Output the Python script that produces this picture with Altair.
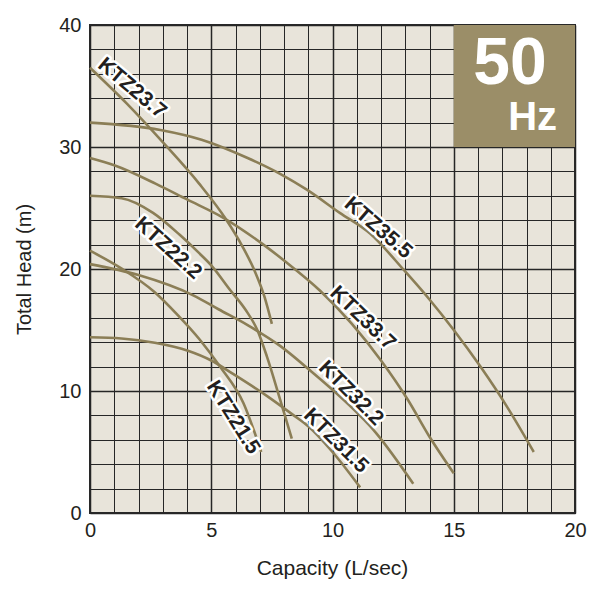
import altair as alt
import pandas as pd

# ---- data ----
names = ["KTZ35.5", "KTZ33.7", "KTZ32.2", "KTZ31.5", "KTZ23.7", "KTZ22.2", "KTZ21.5"]
cap_355 = [0, 2.9, 4.6, 6.5, 7.84, 8.94, 10.3, 11.55, 12.95, 14.0, 15.0, 16.1, 17.2, 18.3]
head_355 = [32.0, 31.4, 30.6, 29.1, 27.8, 26.5, 24.6, 22.9, 19.9, 17.5, 15.0, 12.0, 8.7, 5.0]
cap_337 = [0, 1, 2.7, 4, 5.5, 7.15, 8, 9.5, 10.8, 12, 13.1, 14, 15]
head_337 = [29.1, 28.5, 27.0, 25.7, 24.2, 22.0, 20.7, 18.2, 15.5, 12.5, 9.3, 6.25, 3.25]
cap_322 = [0, 2, 4.3, 5.3, 6.5, 7.84, 9.07, 10, 11.8, 13.33]
head_322 = [20.4, 19.5, 17.8, 16.7, 15.4, 13.7, 11.7, 10.1, 6.55, 2.4]
cap_315 = [0, 1.3, 2.67, 4.04, 5.0, 5.9, 7.29, 8.4, 9.0, 10.0, 11.14]
head_315 = [14.4, 14.3, 13.95, 13.3, 12.5, 11.4, 9.6, 8.0, 7.1, 5.0, 2.1]
cap_237 = [0, 1.5, 3, 4.5, 5.6, 6.3, 6.8, 7.2, 7.5]
head_237 = [36.5, 33.6, 30.4, 27.0, 24.1, 21.8, 19.8, 17.7, 15.5]
cap_222 = [0, 1.3, 2.6, 3.7, 4.45, 5.0, 5.77, 6.4, 6.9, 7.3, 7.84, 8.32]
head_222 = [26.0, 25.8, 24.6, 22.8, 21.4, 20.3, 18.3, 16.7, 15.0, 12.8, 9.3, 6.1]
cap_215 = [0, 1.29, 2.67, 3.63, 4.53, 5.36, 6.33, 7.06]
head_215 = [21.5, 20.05, 18.1, 16.2, 14.2, 12.0, 9.0, 5.0]

caps = [cap_355, cap_337, cap_322, cap_315, cap_237, cap_222, cap_215]
heads = [head_355, head_337, head_322, head_315, head_237, head_222, head_215]

# curve labels: position (data units) and rotation
label_x = [11.88, 11.24, 10.76, 10.14, 1.73, 3.22, 5.9]
label_y = [23.35, 15.96, 9.81, 5.92, 34.8, 21.7, 7.83]
label_angle = [41, 44, 45, 45, 40, 42, 58]

x_ticks = list(range(0, 21))
y_ticks = list(range(0, 41, 2))

# ---- tables ----
rows = []
for n, cs, hs in zip(names, caps, heads):
    for i, (c, h) in enumerate(zip(cs, hs)):
        rows.append({"pump": n, "cap": c, "head": h, "order": i})
curves = pd.DataFrame(rows)
labels = pd.DataFrame({"pump": names, "x": label_x, "y": label_y, "angle": label_angle})
box = pd.DataFrame({"x": [15], "x2": [20], "y": [30], "y2": [40]})
hz = pd.DataFrame({"t": ["50", "Hz"], "x": [17.32, 18.25], "y": [36.8, 32.4], "size": [66, 40]})

FONT = "Liberation Sans"
CURVE = "#8b7e56"
TXT = "#231f20"

xs = alt.Scale(domain=[0, 20], nice=False, zero=False)
ys = alt.Scale(domain=[0, 40], nice=False, zero=False)

x_axis = alt.Axis(
    values=x_ticks,
    tickCount=len(x_ticks),
    labelOverlap=False,
    labelFlush=False,
    labelExpr="datum.value % 5 === 0 ? datum.label : ''",
    title="Capacity (L/sec)",
    grid=True,
    gridColor="#262626",
    gridWidth={"condition": {"test": "datum.value % 5 === 0", "value": 1.5}, "value": 1},
    ticks=False,
    domain=False,
    labelFont=FONT, labelFontSize=20, labelColor=TXT, labelPadding=7,
    titleFont=FONT, titleFontSize=21, titleFontWeight="normal", titleColor=TXT,
    titleX=242, titleY=55, titleBaseline="middle", titleAlign="center",
)
y_axis = alt.Axis(
    values=y_ticks,
    tickCount=len(y_ticks),
    labelOverlap=False,
    labelFlush=False,
    labelExpr="datum.value % 10 === 0 ? datum.label : ''",
    title="Total Head (m)",
    grid=True,
    gridColor="#262626",
    gridWidth={"condition": {"test": "datum.value % 10 === 0", "value": 1.5}, "value": 1},
    ticks=False,
    domain=False,
    labelFont=FONT, labelFontSize=20, labelColor=TXT, labelPadding=9,
    titleFont=FONT, titleFontSize=20, titleFontWeight="normal", titleColor=TXT,
    titleX=-66, titleY=244, titleAngle=-90, titleBaseline="middle", titleAlign="center",
)

lines = alt.Chart(curves).mark_line(
    interpolate="monotone", color=CURVE, strokeWidth=2.6
).encode(
    x=alt.X("cap:Q", scale=xs, axis=x_axis),
    y=alt.Y("head:Q", scale=ys, axis=y_axis),
    detail="pump:N",
    order="order:Q",
)

rect = alt.Chart(box).mark_rect(color="#9b8e68").encode(
    x=alt.X("x:Q", scale=xs), x2="x2:Q", y=alt.Y("y:Q", scale=ys), y2="y2:Q"
)

halo = alt.Chart(labels).mark_text(
    font=FONT, fontSize=21, fontWeight="bold", fill="white", stroke="white", strokeWidth=5,
    strokeJoin="round", align="center", baseline="middle"
).encode(
    x=alt.X("x:Q", scale=xs), y=alt.Y("y:Q", scale=ys),
    text="pump:N", angle=alt.Angle("angle:Q", scale=None),
)
txt = alt.Chart(labels).mark_text(
    font=FONT, fontSize=21, fontWeight="bold", color=TXT, align="center", baseline="middle"
).encode(
    x=alt.X("x:Q", scale=xs), y=alt.Y("y:Q", scale=ys),
    text="pump:N", angle=alt.Angle("angle:Q", scale=None),
)

hz_text = alt.Chart(hz).mark_text(
    font=FONT, fontWeight="bold", color="white", align="center", baseline="middle"
).encode(
    x=alt.X("x:Q", scale=xs), y=alt.Y("y:Q", scale=ys),
    text="t:N", size=alt.Size("size:Q", scale=None, legend=None),
)

chart = alt.layer(lines, rect, halo, txt, hz_text).properties(
    width=485, height=488,
    padding={"left": 82, "top": 17, "right": 20, "bottom": 70},
    autosize=alt.AutoSizeParams(type="none"),
    background="white",
).configure_view(
    fill="#e8e4da", stroke="#2a2a2a", strokeWidth=2
)

chart.save("out.html", embed_options={"renderer": "svg", "actions": False})
